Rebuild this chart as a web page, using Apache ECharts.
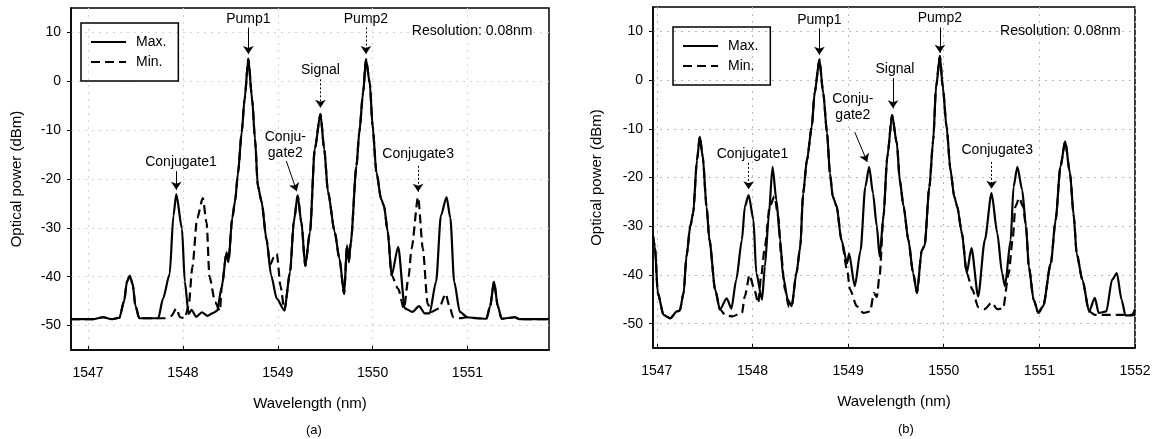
<!DOCTYPE html>
<html>
<head>
<meta charset="utf-8">
<script src="https://cdn.jsdelivr.net/npm/echarts@6/dist/echarts.min.js"></script>
<style>
  html, body { margin: 0; background: #fff; }
  #chart { width: 1159px; height: 439px; }
</style>
</head>
<body>
<div id="chart"></div>
<script>
// tick values
var yTicks = [-50, -40, -30, -20, -10, 0, 10];
var xTicksA = [1547, 1548, 1549, 1550, 1551];
var xTicksB = [1547, 1548, 1549, 1550, 1551, 1552];

// panel (a) spectra [wavelength nm, power dBm]
var maxA = [
  [1546.82,-48.7],[1547.05,-48.7],[1547.16,-48.3],[1547.25,-48.7],[1547.33,-48.4],[1547.38,-45],
  [1547.41,-41],[1547.44,-39.8],[1547.47,-41.5],[1547.5,-46],[1547.54,-48.5],[1547.74,-48.5],
  [1547.79,-44.5],[1547.86,-39.5],[1547.90,-27.5],[1547.93,-23.1],[1547.99,-30.2],[1548.02,-41],
  [1548.06,-47.6],[1548.09,-46.8],[1548.14,-48.2],[1548.2,-47.3],[1548.26,-48],[1548.31,-47.5],
  [1548.36,-47],[1548.41,-42],[1548.46,-35],[1548.48,-37],[1548.52,-28],[1548.55,-24.5],
  [1548.58,-18.9],[1548.62,-10.4],[1548.65,-3.7],[1548.69,4.6],[1548.73,-3.7],[1548.76,-11.8],
  [1548.79,-21.4],[1548.83,-24.7],[1548.88,-32.2],[1548.93,-39.7],[1548.99,-44.5],[1549.07,-46.9],
  [1549.13,-39],[1549.17,-28.6],[1549.21,-23.4],[1549.25,-29],[1549.29,-37.8],[1549.34,-30.8],
  [1549.39,-13.9],[1549.45,-6.7],[1549.49,-13.9],[1549.53,-22.7],[1549.6,-30.8],[1549.65,-36.3],
  [1549.70,-43.5],[1549.73,-33.6],[1549.75,-37],[1549.77,-33],[1549.83,-17.3],[1549.86,-10.4],
  [1549.90,-2.3],[1549.93,4.5],[1549.97,-0.3],[1550.0,-9.1],[1550.04,-18.6],[1550.09,-24.1],
  [1550.12,-25.5],[1550.16,-30.8],[1550.2,-39.7],[1550.27,-33.9],[1550.34,-46.5],[1550.42,-47.2],
  [1550.49,-46],[1550.55,-47.5],[1550.6,-47.5],[1550.67,-41],[1550.72,-27.5],[1550.78,-23.7],
  [1550.82,-28],[1550.86,-41],[1550.92,-47.2],[1551.0,-48.3],[1551.1,-48.5],[1551.2,-48.6],
  [1551.24,-46],[1551.28,-41],[1551.32,-46],[1551.36,-48.6],[1551.5,-48.3],[1551.55,-48.7],
  [1551.86,-48.7]
];
var minA = [
  [1546.82,-48.7],[1547.05,-48.7],[1547.16,-48.3],[1547.25,-48.7],[1547.33,-48.4],[1547.38,-45],
  [1547.41,-41],[1547.44,-39.8],[1547.47,-41.5],[1547.5,-46],[1547.54,-48.5],[1547.8,-48.5],
  [1547.88,-48],[1547.93,-46.5],[1547.97,-48.3],[1548.02,-48.5],[1548.06,-46],[1548.1,-38],
  [1548.15,-28],[1548.21,-23.9],[1548.25,-29],[1548.28,-40],[1548.34,-45.2],[1548.39,-47],
  [1548.41,-42],[1548.46,-35],[1548.48,-37],[1548.52,-28],[1548.55,-24.5],[1548.58,-18.9],
  [1548.62,-10.4],[1548.65,-3.7],[1548.69,4.6],[1548.73,-3.7],[1548.76,-11.8],[1548.79,-21.4],
  [1548.83,-24.7],[1548.88,-32.2],[1548.92,-37.5],[1548.96,-36],[1548.99,-35.3],[1549.03,-42],
  [1549.07,-46.9],[1549.13,-39],[1549.17,-28.6],[1549.21,-23.4],[1549.25,-29],[1549.29,-37.8],
  [1549.34,-30.8],[1549.39,-13.9],[1549.45,-6.7],[1549.49,-13.9],[1549.53,-22.7],[1549.6,-30.8],
  [1549.65,-36.3],[1549.70,-43.5],[1549.73,-33.6],[1549.75,-37],[1549.77,-33],[1549.83,-17.3],
  [1549.86,-10.4],[1549.90,-2.3],[1549.93,4.5],[1549.97,-0.3],[1550.0,-9.1],[1550.04,-18.6],
  [1550.09,-24.1],[1550.12,-25.5],[1550.16,-30.8],[1550.2,-39.7],[1550.27,-42.5],[1550.33,-46.5],
  [1550.38,-40],[1550.41,-34.3],[1550.48,-23.7],[1550.53,-34.3],[1550.58,-45.5],[1550.62,-47.2],
  [1550.70,-46.5],[1550.77,-43.5],[1550.81,-46],[1550.85,-48.3],[1550.92,-48.5],[1551.0,-48.3],
  [1551.1,-48.5],[1551.2,-48.6],[1551.24,-46],[1551.28,-41],[1551.32,-46],[1551.36,-48.6],
  [1551.5,-48.3],[1551.55,-48.7],[1551.86,-48.7]
];

// panel (b) spectra
var maxB = [
  [1546.96,-32],[1546.98,-34.2],[1547.01,-43.7],[1547.07,-48.2],[1547.14,-48.9],[1547.21,-47.5],
  [1547.24,-47.3],[1547.28,-43.7],[1547.31,-36.2],[1547.35,-30],[1547.38,-27.3],[1547.42,-16.4],
  [1547.45,-11.6],[1547.48,-15.7],[1547.52,-26],[1547.55,-32.8],[1547.61,-43],[1547.66,-47.1],
  [1547.73,-44.8],[1547.78,-46.9],[1547.83,-41],[1547.89,-32.8],[1547.92,-26],[1547.96,-23.6],
  [1548.01,-28.6],[1548.04,-39.6],[1548.10,-45.1],[1548.13,-38.3],[1548.17,-28],[1548.21,-17.8],
  [1548.25,-24.6],[1548.29,-32.8],[1548.32,-40.3],[1548.37,-45.1],[1548.41,-46.4],[1548.46,-39.6],
  [1548.5,-34.2],[1548.53,-23.2],[1548.57,-16.4],[1548.62,-9.6],[1548.65,-2.7],[1548.70,4.2],
  [1548.74,-2.7],[1548.78,-10.9],[1548.81,-19.1],[1548.84,-23.9],[1548.88,-25.9],[1548.93,-32.8],
  [1548.99,-37.6],[1549.01,-35.6],[1549.07,-42.3],[1549.13,-35],[1549.18,-21.9],[1549.22,-17.8],
  [1549.26,-23.2],[1549.30,-30],[1549.33,-36.2],[1549.37,-28],[1549.41,-15.7],[1549.46,-7.2],
  [1549.51,-13],[1549.54,-20.5],[1549.58,-25.9],[1549.63,-32.8],[1549.68,-39.6],[1549.72,-43.7],
  [1549.77,-35],[1549.80,-34],[1549.85,-21.9],[1549.89,-12.3],[1549.92,-1.4],[1549.96,4.9],
  [1549.99,-1.4],[1550.03,-9.6],[1550.07,-18.4],[1550.11,-23.9],[1550.14,-25.9],[1550.19,-31.4],
  [1550.24,-39.6],[1550.29,-34.5],[1550.36,-44.4],[1550.43,-32.8],[1550.50,-23.2],[1550.56,-31.4],
  [1550.61,-39.6],[1550.64,-42.3],[1550.70,-32.8],[1550.73,-21.9],[1550.77,-17.8],[1550.82,-22.5],
  [1550.86,-30],[1550.89,-38.3],[1550.94,-45.1],[1550.99,-47.8],[1551.04,-46.4],[1551.12,-37.6],
  [1551.17,-28.7],[1551.22,-17.8],[1551.27,-12.6],[1551.32,-19.1],[1551.36,-28],[1551.39,-35.6],
  [1551.45,-41],[1551.52,-47.5],[1551.58,-44.7],[1551.62,-47.8],[1551.7,-47.5],[1551.76,-41],
  [1551.81,-39.6],[1551.86,-45.1],[1551.90,-48.3],[1551.97,-48.3],[1552.0,-47]
];
var minB = [
  [1546.96,-32],[1546.98,-34.2],[1547.01,-43.7],[1547.07,-48.2],[1547.14,-48.9],[1547.21,-47.5],
  [1547.24,-47.3],[1547.28,-43.7],[1547.31,-36.2],[1547.35,-30],[1547.38,-27.3],[1547.42,-16.4],
  [1547.45,-11.6],[1547.48,-15.7],[1547.52,-26],[1547.55,-32.8],[1547.61,-43],[1547.66,-47.1],
  [1547.72,-48.3],[1547.79,-48.5],[1547.89,-47.8],[1547.92,-44.4],[1547.97,-40],[1548.02,-43],
  [1548.06,-45.8],[1548.09,-40.3],[1548.13,-34.2],[1548.18,-26],[1548.23,-23.9],[1548.27,-28],
  [1548.3,-36],[1548.34,-43],[1548.38,-46.5],[1548.41,-46.4],[1548.46,-39.6],[1548.5,-34.2],
  [1548.53,-23.2],[1548.57,-16.4],[1548.62,-9.6],[1548.65,-2.7],[1548.70,4.2],[1548.74,-2.7],
  [1548.78,-10.9],[1548.81,-19.1],[1548.84,-23.9],[1548.88,-25.9],[1548.93,-32.8],[1548.99,-39],
  [1549.02,-43],[1549.09,-46.4],[1549.16,-47.8],[1549.23,-47.5],[1549.27,-43.7],[1549.30,-44.5],
  [1549.33,-40],[1549.37,-28],[1549.41,-15.7],[1549.46,-7.2],[1549.51,-13],[1549.54,-20.5],
  [1549.58,-25.9],[1549.63,-32.8],[1549.68,-39.6],[1549.72,-43.7],[1549.77,-35],[1549.80,-34],
  [1549.85,-21.9],[1549.89,-12.3],[1549.92,-1.4],[1549.96,4.9],[1549.99,-1.4],[1550.03,-9.6],
  [1550.07,-18.4],[1550.11,-23.9],[1550.14,-25.9],[1550.19,-31.4],[1550.24,-39.6],[1550.3,-43],
  [1550.36,-46.6],[1550.43,-47],[1550.50,-45.7],[1550.56,-47],[1550.62,-46.9],[1550.68,-39.6],
  [1550.72,-32.8],[1550.75,-25.9],[1550.79,-24.2],[1550.83,-26],[1550.86,-30],[1550.89,-38.3],
  [1550.94,-45.1],[1550.99,-47.8],[1551.04,-46.4],[1551.12,-37.6],[1551.17,-28.7],[1551.22,-17.8],
  [1551.27,-12.6],[1551.32,-19.1],[1551.36,-28],[1551.39,-35.6],[1551.45,-41],[1551.52,-47.5],
  [1551.58,-48.2],[1551.8,-48.2],[1552.0,-48.2]
];

// annotations: label position and arrow (data coords)
var notesA = [
  { name: 'Pump1', at: [1548.69, 12.7], from: [1548.69, 11], to: [1548.69, 5.6] },
  { name: 'Signal', at: [1549.45, 2.2], from: [1549.45, 0.4], to: [1549.45, -5.4], dotted: true },
  { name: 'Pump2', at: [1549.93, 12.7], from: [1549.93, 11], to: [1549.93, 5.6], dotted: true },
  { name: 'Conjugate1', at: [1547.98, -16.5], from: [1547.93, -18.4], to: [1547.93, -22.2] },
  { name: 'Conju-\ngate2', at: [1549.08, -13], from: [1549.09, -16.3], to: [1549.2, -22.5] },
  { name: 'Conjugate3', at: [1550.48, -14.9], from: [1550.48, -17.3], to: [1550.48, -22.6], dotted: true },
  { name: 'Resolution: 0.08nm', at: [1551.05, 10.2] }
];
var notesB = [
  { name: 'Pump1', at: [1548.70, 12.3], from: [1548.70, 10.6], to: [1548.70, 5.2] },
  { name: 'Signal', at: [1549.49, 2.3], from: [1549.47, 0.4], to: [1549.47, -5.8] },
  { name: 'Pump2', at: [1549.96, 12.7], from: [1549.96, 10.8], to: [1549.96, 5.6] },
  { name: 'Conjugate1', at: [1548.0, -15.2], from: [1547.96, -17], to: [1547.96, -22.4], dotted: true },
  { name: 'Conju-\ngate2', at: [1549.05, -5.5], from: [1549.07, -10.7], to: [1549.2, -16.8] },
  { name: 'Conjugate3', at: [1550.56, -14.3], from: [1550.5, -16.8], to: [1550.5, -22.3], dotted: true },
  { name: 'Resolution: 0.08nm', at: [1551.22, 10] }
];

var FONT = '"Liberation Sans", Arial, sans-serif';
var INK = '#000';

function xAxisFor(grid, min, max, ticks, split) {
  return {
    type: 'value', gridIndex: grid, min: min, max: max,
    name: 'Wavelength (nm)', nameLocation: 'middle', nameGap: 46,
    nameTextStyle: { fontSize: 15, color: INK, fontFamily: FONT },
    axisLine: { show: true, onZero: false, lineStyle: { color: INK, width: 1.5 } },
    axisTick: { show: true, inside: true, length: 4, customValues: ticks, lineStyle: { color: INK } },
    axisLabel: {
      customValues: ticks, margin: 16, fontSize: 14, color: INK, fontFamily: FONT,
      formatter: function (v) { return String(Math.round(v)); }
    },
    splitLine: { show: true, lineStyle: { color: split, type: [2, 5], width: 1 } }
  };
}

function yAxisFor(grid, gap, split) {
  return {
    type: 'value', gridIndex: grid, min: -55, max: 15,
    name: 'Optical power (dBm)', nameLocation: 'middle', nameGap: gap,
    nameTextStyle: { fontSize: 15, color: INK, fontFamily: FONT },
    axisLine: { show: true, lineStyle: { color: INK, width: 1.5 } },
    axisTick: { show: true, length: 4, customValues: yTicks, lineStyle: { color: INK } },
    axisLabel: { customValues: yTicks, margin: 10, fontSize: 14, color: INK, fontFamily: FONT },
    splitLine: { show: true, lineStyle: { color: split, type: [2, 5], width: 1 } }
  };
}

function spectrum(name, data, grid, dashed, notes) {
  var s = {
    name: name, type: 'line', xAxisIndex: grid, yAxisIndex: grid,
    data: data, showSymbol: false, symbol: 'none',
    smooth: 0.25, smoothMonotone: 'x',
    lineStyle: { color: INK, width: 2.2, type: dashed ? [9, 5] : 'solid' },
    itemStyle: { color: INK },
    z: dashed ? 3 : 4
  };
  if (notes) {
    s.markPoint = {
      silent: true, symbol: 'circle', symbolSize: 0, animation: false,
      label: {
        show: true, position: 'inside', formatter: '{b}',
        color: INK, fontSize: 14, lineHeight: 16, fontFamily: FONT
      },
      data: notes.map(function (n) { return { name: n.name, coord: n.at }; })
    };
    s.markLine = {
      silent: true, animation: false,
      symbol: ['none', 'arrow'], symbolSize: 8,
      lineStyle: { color: INK, width: 1, type: 'solid' },
      label: { show: false },
      data: notes.filter(function (n) { return n.from; }).map(function (n) {
        return [
          { coord: n.from, lineStyle: { type: n.dotted ? [2, 2] : 'solid' } },
          { coord: n.to }
        ];
      })
    };
  }
  return s;
}

var legendBase = {
  orient: 'vertical', data: ['Max.', 'Min.'],
  itemWidth: 35, itemHeight: 14, itemGap: 6,
  borderColor: INK, borderWidth: 1.5, borderRadius: 0,
  padding: [12, 12, 12, 9],
  itemStyle: { opacity: 0 },
  textStyle: { fontSize: 14, color: INK, fontFamily: FONT, padding: [0, 0, 0, 5] }
};

var chart = echarts.init(document.getElementById('chart'), null, { renderer: 'canvas' });
chart.setOption({
  animation: false,
  backgroundColor: '#fff',
  title: [
    { text: '(a)', left: 301, top: 419, textStyle: { fontSize: 13, fontWeight: 'normal', color: INK, fontFamily: FONT } },
    { text: '(b)', left: 893, top: 418, textStyle: { fontSize: 13, fontWeight: 'normal', color: INK, fontFamily: FONT } }
  ],
  legend: [
    Object.assign({ left: 81, top: 23 }, legendBase),
    Object.assign({ left: 673, top: 27 }, legendBase)
  ],
  grid: [
    { left: 71, top: 8, width: 478, height: 342, show: true, borderColor: INK, borderWidth: 1.5, outerBoundsMode: 'none' },
    { left: 653, top: 7, width: 482, height: 341, show: true, borderColor: INK, borderWidth: 1.5, outerBoundsMode: 'none' }
  ],
  xAxis: [
    xAxisFor(0, 1546.82, 1551.86, xTicksA, '#d4d4d4'),
    xAxisFor(1, 1546.96, 1552, xTicksB, '#b8b8b8')
  ],
  yAxis: [
    yAxisFor(0, 47, '#d4d4d4'),
    yAxisFor(1, 49, '#b8b8b8')
  ],
  series: [
    spectrum('Max.', maxA, 0, false, notesA),
    spectrum('Min.', minA, 0, true),
    spectrum('Max.', maxB, 1, false, notesB),
    spectrum('Min.', minB, 1, true)
  ]
});
</script>
</body>
</html>
